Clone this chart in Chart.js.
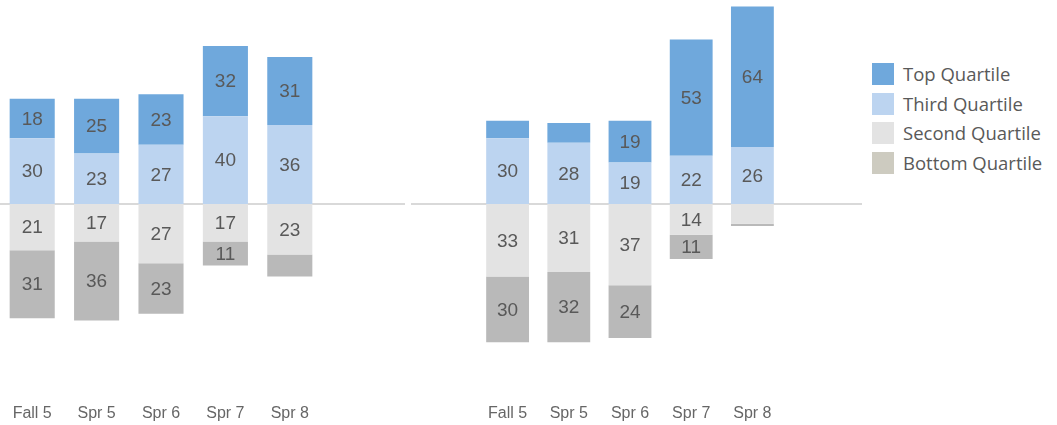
<!DOCTYPE html>
<html>
<head>
<meta charset="utf-8">
<script src="https://cdn.jsdelivr.net/npm/chart.js@4/dist/chart.umd.min.js"></script>
<style>
  body { margin: 0; background: #fff; width: 1057px; height: 425px; overflow: hidden; position: relative; }
  #left { position: absolute; left: 0; top: 0; }
  #right { position: absolute; left: 411px; top: 0; }
  #legend { position: absolute; left: 872px; top: 63px; font-family: "Open Sans", sans-serif; font-size: 18.5px; color: #595959; }
  .item { height: 29.5px; display: flex; align-items: flex-start; }
  .sw { width: 22px; height: 22px; margin-right: 9px; }
  .item span { line-height: 22px; }
</style>
</head>
<body>
<canvas id="left" width="405" height="425"></canvas>
<canvas id="right" width="451" height="425"></canvas>
<div id="legend"></div>
<script>
// categorii si serii (valorile de jos sunt negative, sub linia de zero)
const categories = ['Fall 5', 'Spr 5', 'Spr 6', 'Spr 7', 'Spr 8'];
const seriesNames = ['Top Quartile', 'Third Quartile', 'Second Quartile', 'Bottom Quartile'];
const seriesColors = ['#6fa8dc', '#bcd4f0', '#e3e3e3', '#b9b9b9'];
const legendColors = ['#6fa8dc', '#bcd4f0', '#e3e3e3', '#cdcbc0'];

// panoul din stanga
const leftTop = [18, 25, 23, 32, 31];
const leftThird = [30, 23, 27, 40, 36];
const leftSecond = [-21, -17, -27, -17, -23];
const leftBottom = [-31, -36, -23, -11, -10];

// panoul din dreapta
const rightTop = [8, 9, 19, 53, 64];
const rightThird = [30, 28, 19, 22, 26];
const rightSecond = [-33, -31, -37, -14, -9];
const rightBottom = [-30, -32, -24, -11, -1];

const minLabel = 11; // segmentele mici nu au eticheta

// linia de zero pe toata latimea panoului
const zeroLine = {
    id: 'zeroLine',
    beforeDatasetsDraw(chart) {
        const y = chart.scales.y.getPixelForValue(0);
        const c = chart.ctx;
        c.save();
        c.strokeStyle = '#d9d9d9';
        c.lineWidth = 2;
        c.beginPath();
        c.moveTo(0, y);
        c.lineTo(chart.width, y);
        c.stroke();
        c.restore();
    }
};

// etichete cu valori in mijlocul segmentelor
const valueLabels = {
    id: 'valueLabels',
    afterDatasetsDraw(chart) {
        const c = chart.ctx;
        c.save();
        c.font = '19px "Liberation Sans", Arial, sans-serif';
        c.fillStyle = '#595959';
        c.textAlign = 'center';
        c.textBaseline = 'middle';
        chart.data.datasets.forEach((ds, i) => {
            chart.getDatasetMeta(i).data.forEach((bar, j) => {
                const v = Math.abs(ds.data[j]);
                if (v < minLabel) return;
                const p = bar.getProps(['x', 'y', 'base'], true);
                c.fillText(String(v), p.x, (p.y + p.base) / 2 + 1);
            });
        });
        c.restore();
    }
};

function makeChart(id, top, third, second, bottom, padLeft, padRight) {
    const data = [third, top, second, bottom];
    const idx = [1, 0, 2, 3];
    return new Chart(document.getElementById(id), {
        type: 'bar',
        data: {
            labels: categories,
            datasets: data.map((d, k) => ({
                label: seriesNames[idx[k]],
                data: d,
                backgroundColor: seriesColors[idx[k]],
                borderWidth: 0,
                barPercentage: 0.7,
                categoryPercentage: 1
            }))
        },
        options: {
            responsive: false,
            animation: false,
            layout: { padding: { left: padLeft, right: padRight, top: 0, bottom: 0 } },
            plugins: { legend: { display: false }, tooltip: { enabled: false } },
            scales: {
                x: {
                    stacked: true,
                    grid: { display: false, drawTicks: false },
                    border: { display: false },
                    ticks: { padding: 9, color: '#666', font: { family: '"Liberation Sans", Arial', size: 16 } },
                    afterFit(scale) { scale.height = 30; }
                },
                y: { stacked: true, display: false, min: -87, max: 93 }
            }
        },
        plugins: [zeroLine, valueLabels]
    });
}

makeChart('left', leftTop, leftThird, leftSecond, leftBottom, 0, 83);
makeChart('right', rightTop, rightThird, rightSecond, rightBottom, 66, 79);

// legenda
const lg = document.getElementById('legend');
seriesNames.forEach((n, i) => {
    const it = document.createElement('div');
    it.className = 'item';
    it.innerHTML = '<div class="sw" style="background:' + legendColors[i] + '"></div><span>' + n + '</span>';
    lg.appendChild(it);
});
</script>
</body>
</html>
